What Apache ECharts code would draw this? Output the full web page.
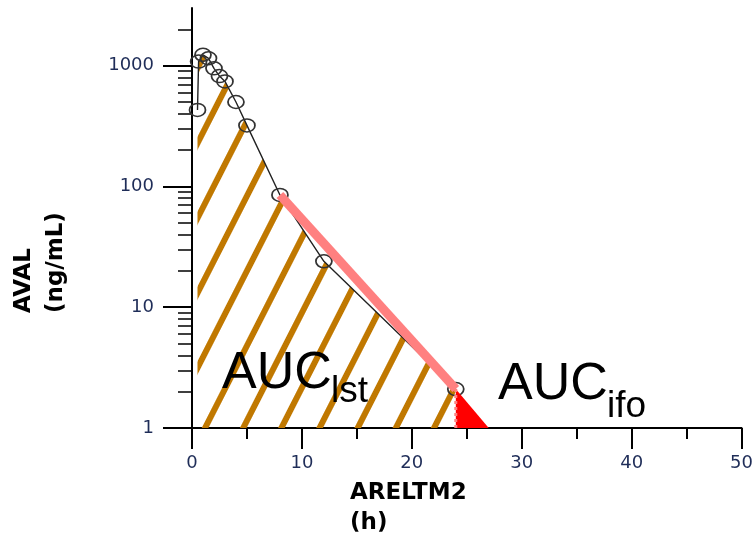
<!DOCTYPE html>
<html>
<head>
<meta charset="utf-8">
<script src="https://cdn.jsdelivr.net/npm/echarts@6/dist/echarts.min.js"></script>
<style>
   html, body { margin: 0; padding: 0; background: #fff; }
   #chart { width: 756px; height: 540px; }
</style>
</head>
<body>
<div id="chart"></div>
<script>
// observed concentrations (time in h, AVAL in ng/mL)
const timePoints = [0.5, 0.6, 1, 1.5, 2, 2.5, 3, 4, 5, 8, 12, 24];
const concValues = [430, 1080, 1230, 1150, 950, 820, 740, 500, 320, 85, 24, 2.1];
// terminal phase fit (pink) and extrapolated tail (red)
const terminalTimes = [8, 24];
const terminalValues = [85, 2.1];
const extrapTimes = [24, 27];
const extrapValues = [2.1, 1];
const tailEdgeTimes = [24, 24];
const tailEdgeValues = [2.1, 1];
// axis ticks
const yMajorTicks = [1, 10, 100, 1000];
const yMinorTicks = [2, 3, 4, 5, 6, 7, 8, 9, 20, 30, 40, 50, 60, 70, 80, 90,
   200, 300, 400, 500, 600, 700, 800, 900, 2000];

const pairs = (xs, ys) => xs.map((x, i) => [x, ys[i]]);

const labelColor = '#1f2d58';
const hatch = {
   symbol: 'rect',
   symbolSize: 1,
   color: '#c07800',
   dashArrayX: [1, 0],
   dashArrayY: [6, 28],
   rotation: -Math.PI * 63 / 180
};

const chart = echarts.init(document.getElementById('chart'));
chart.setOption({
   animation: false,
   grid: { left: 192, right: 11, top: 8, bottom: 112 },
   xAxis: {
      type: 'value',
      min: 0,
      max: 50,
      interval: 10,
      axisLine: { onZero: false, lineStyle: { color: '#000', width: 2 } },
      axisTick: { length: 21, lineStyle: { color: '#000', width: 2 } },
      minorTick: { show: true, splitNumber: 2, length: 11, lineStyle: { color: '#000', width: 2 } },
      axisLabel: { margin: 26, color: labelColor, fontFamily: 'DejaVu Sans', fontSize: 18 },
      splitLine: { show: false }
   },
   yAxis: [
      {
         type: 'log',
         logBase: 10,
         min: 1,
         max: 3000,
         position: 'left',
         axisLine: { show: true, onZero: false, lineStyle: { color: '#000', width: 2 } },
         axisTick: { show: true, customValues: yMajorTicks, length: 29, lineStyle: { color: '#000', width: 2 } },
         axisLabel: {
            customValues: yMajorTicks, margin: 38, color: labelColor,
            fontFamily: 'DejaVu Sans', fontSize: 18,
            formatter: (v) => String(v)
         },
         splitLine: { show: false }
      },
      {
         type: 'log',
         logBase: 10,
         min: 1,
         max: 3000,
         position: 'left',
         axisLine: { show: false },
         axisTick: { show: true, customValues: yMinorTicks, length: 14, lineStyle: { color: '#000', width: 1.5 } },
         axisLabel: { show: false },
         splitLine: { show: false }
      }
   ],
   series: [
      {
         // hatched AUC area
         type: 'line',
         data: pairs(timePoints, concValues),
         symbol: 'none',
         silent: true,
         lineStyle: { width: 0, opacity: 0, decal: hatch },
         itemStyle: { decal: hatch },
         areaStyle: { color: 'rgba(0,0,0,0)', opacity: 1 },
         z: 1
      },
      {
         type: 'line',
         data: pairs(timePoints, concValues),
         symbol: 'circle',
         symbolSize: [16, 13],
         itemStyle: { color: 'rgba(255,255,255,0)', borderColor: '#333', borderWidth: 1.6 },
         lineStyle: { color: '#222', width: 1.4 },
         z: 3
      },
      {
         type: 'line',
         data: pairs(terminalTimes, terminalValues),
         symbol: 'none',
         lineStyle: { color: '#ff8080', width: 9, cap: 'butt' },
         z: 4
      },
      {
         type: 'line',
         data: pairs(extrapTimes, extrapValues),
         symbol: 'none',
         lineStyle: { width: 0 },
         itemStyle: { color: '#ff0000' },
         areaStyle: { color: '#ff0000', opacity: 1 },
         z: 5
      },
      {
         type: 'line',
         data: pairs(tailEdgeTimes, tailEdgeValues),
         symbol: 'none',
         lineStyle: { color: '#ff8080', width: 3, type: [3, 3] },
         z: 6
      }
   ],
   graphic: [
      {
         type: 'text', x: 350, y: 508,
         style: {
            text: 'ARELTM2\n(h)', fill: '#000', font: 'bold 23px "DejaVu Sans"',
            lineHeight: 30, align: 'left', verticalAlign: 'middle'
         }
      },
      {
         type: 'text', x: 40, y: 313, rotation: Math.PI / 2,
         style: {
            text: 'AVAL\n(ng/mL)', fill: '#000', font: 'bold 23px "DejaVu Sans"',
            lineHeight: 32, align: 'left', verticalAlign: 'middle'
         }
      },
      {
         type: 'text', x: 222, y: 374, z: 10,
         style: { text: 'AUC', fill: '#000', font: '52px "Liberation Sans"', align: 'left', verticalAlign: 'middle' }
      },
      {
         type: 'text', x: 331, y: 392, z: 10,
         style: { text: 'lst', fill: '#000', font: '37px "Liberation Sans"', align: 'left', verticalAlign: 'middle' }
      },
      {
         type: 'text', x: 498, y: 385, z: 10,
         style: { text: 'AUC', fill: '#000', font: '52px "Liberation Sans"', align: 'left', verticalAlign: 'middle' }
      },
      {
         type: 'text', x: 607, y: 407, z: 10,
         style: { text: 'ifo', fill: '#000', font: '37px "Liberation Sans"', align: 'left', verticalAlign: 'middle' }
      }
   ]
});
</script>
</body>
</html>
